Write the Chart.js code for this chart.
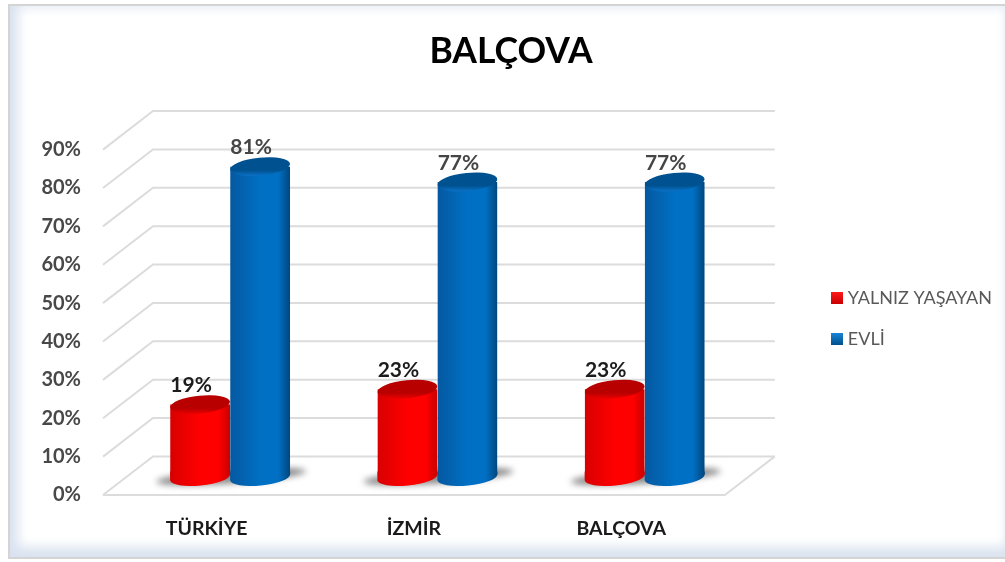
<!DOCTYPE html>
<html lang="tr">
<head>
<meta charset="utf-8">
<title>BALÇOVA</title>
<script src="https://cdn.jsdelivr.net/npm/chart.js@4"></script>
<style>
  html, body { margin: 0; background: #fff; overflow: hidden; }
  #frame {
    position: absolute; left: 8px; top: 4px; width: 999px; height: 555px;
    border: 2px solid #d4d4d4; border-right: 0; box-sizing: border-box;
    box-shadow: inset 14px 0 12px -6px #d9e2f0, inset 0 -16px 12px -6px #d9e3ef,
                inset 0 10px 10px -6px #eef2f8, inset -8px 0 8px -5px #e8edf5;
  }
  #wrap { position: absolute; left: 0; top: 0; width: 1005px; height: 562px; }
</style>
</head>
<body>
<div id="frame"></div>
<div id="wrap"><canvas id="chart" width="1005" height="562"></canvas></div>
<script>
const titleText = "BALÇOVA";
const categories = ["TÜRKİYE", "İZMİR", "BALÇOVA"];
const seriesNames = ["YALNIZ YAŞAYAN", "EVLİ"];
const yalnizValues = [19, 23, 23];
const evliValues = [81, 77, 77];
const yTickMax = 90;
const yTickStep = 10;

const FONT = "Lato, Carlito, sans-serif";
const WALL_DX = 50, WALL_DY = 38.6;   // back wall offset
const BAR_DX = 23.5, BAR_DY = 17.5;   // bars stand in the middle of the floor
const BAR_W = 60, CAP_RY = 9, FOOT_RY = 8, TILT = -0.1;
const SLANT = 3;                      // how far the tilted ellipse ends sit off its centre

const looks = [
  { edgeL: "#d80000", mid: "#ff0000", edgeR: "#c80000", capA: "#b80000", capB: "#e60000", label: "#1c1c1c", swatchA: "#ff1a1a", swatchB: "#c80000" },
  { edgeL: "#0558a0", mid: "#0070c4", edgeR: "#00467c", capA: "#00518f", capB: "#0a70c4", label: "#454545", swatchA: "#1a84d8", swatchB: "#00508c" }
];

function bodyGradient(ctx, x, look) {
  const g = ctx.createLinearGradient(x - BAR_W / 2, 0, x + BAR_W / 2, 0);
  g.addColorStop(0, look.edgeL);
  g.addColorStop(0.5, look.mid);
  g.addColorStop(0.8, look.mid);
  g.addColorStop(1, look.edgeR);
  return g;
}

const room3d = {
  id: "room3d",
  afterLayout(chart) {
    chart.legend.top -= 4;
    chart.legend.bottom -= 4;
  },
  beforeDatasetsDraw(chart) {
    const { ctx, chartArea: a, scales: { x, y } } = chart;
    ctx.save();
    ctx.strokeStyle = "#dcdcdc";
    ctx.lineWidth = 2;
    y.ticks.forEach(t => {
      const py = y.getPixelForValue(t.value);
      ctx.beginPath();
      ctx.moveTo(a.left, py);
      ctx.lineTo(a.left + WALL_DX, py - WALL_DY);
      ctx.lineTo(a.right + WALL_DX, py - WALL_DY);
      ctx.stroke();
    });
    // floor
    ctx.beginPath();
    ctx.moveTo(a.left, a.bottom);
    ctx.lineTo(a.right, a.bottom);
    ctx.lineTo(a.right + WALL_DX, a.bottom - WALL_DY);
    ctx.stroke();
    // shadows under the bar pairs
    ctx.filter = "blur(3px)";
    ctx.fillStyle = "#8c8c8c";
    categories.forEach((c, i) => {
      ctx.beginPath();
      ctx.ellipse(x.getPixelForValue(i) + BAR_DX + 1, y.getPixelForValue(0) - BAR_DY - 1, 75, 7, -0.07, 0, Math.PI * 2);
      ctx.fill();
    });
    ctx.restore();
  },
  beforeDatasetDraw(chart, args) {
    const { ctx, scales: { y } } = chart;
    const look = looks[args.index];
    const base = y.getPixelForValue(0);
    const bars = chart.getDatasetMeta(args.index).data;
    ctx.save();
    ctx.translate(BAR_DX, -BAR_DY);
    bars.forEach(b => {
      const l = b.x - BAR_W / 2, r = b.x + BAR_W / 2;
      ctx.fillStyle = bodyGradient(ctx, b.x, look);
      ctx.beginPath();
      ctx.ellipse(b.x, base, BAR_W / 2, FOOT_RY, TILT, 0, Math.PI * 2);
      ctx.fill();
      ctx.beginPath();
      ctx.moveTo(l, base - 6);
      ctx.lineTo(r, base - 6);
      ctx.lineTo(r, base - SLANT);
      ctx.lineTo(l, base + SLANT);
      ctx.closePath();
      ctx.fill();
    });
    // cut the square foot of the library's bar along the slant
    ctx.beginPath();
    bars.forEach(b => {
      const l = b.x - BAR_W / 2, r = b.x + BAR_W / 2;
      ctx.moveTo(l, b.y - 5);
      ctx.lineTo(r, b.y - 5);
      ctx.lineTo(r, base - SLANT);
      ctx.lineTo(l, base + SLANT);
      ctx.closePath();
    });
    ctx.clip();
  },
  afterDatasetDraw(chart, args) {
    const { ctx } = chart;
    const look = looks[args.index];
    const bars = chart.getDatasetMeta(args.index).data;
    ctx.restore();
    ctx.save();
    ctx.translate(BAR_DX, -BAR_DY);
    bars.forEach(b => {
      const g = ctx.createLinearGradient(0, b.y - CAP_RY, 0, b.y + CAP_RY);
      g.addColorStop(0, look.capA);
      g.addColorStop(0.7, look.capA);
      g.addColorStop(1, look.capB);
      ctx.fillStyle = g;
      ctx.beginPath();
      ctx.ellipse(b.x, b.y, BAR_W / 2, CAP_RY, TILT, 0, Math.PI * 2);
      ctx.fill();
    });
    ctx.restore();
  },
  afterDatasetsDraw(chart) {
    const { ctx } = chart;
    ctx.save();
    ctx.font = "bold 21px " + FONT;
    ctx.textAlign = "center";
    ctx.textBaseline = "middle";
    chart.data.datasets.forEach((ds, d) => {
      ctx.fillStyle = looks[d].label;
      chart.getDatasetMeta(d).data.forEach((b, i) => {
        ctx.fillText(ds.data[i] + "%", b.x + BAR_DX - 9, b.y - BAR_DY - 19);
      });
    });
    ctx.restore();
  },
  afterDraw(chart) {
    // legend swatches, the library's own box has no gradient
    const { ctx } = chart;
    chart.legend.legendHitBoxes.forEach((h, i) => {
      const top = Math.round(h.top + h.height / 2 - 6);
      const left = Math.round(h.left - 8);
      const g = ctx.createLinearGradient(0, top, 0, top + 12);
      g.addColorStop(0, looks[i].swatchA);
      g.addColorStop(1, looks[i].swatchB);
      ctx.fillStyle = g;
      ctx.fillRect(left, top, 12, 12);
    });
  }
};

function scriptedBody(d) {
  return c => {
    const x = c.chart.scales.x;
    if (!x || !c.chart.chartArea) return looks[d].mid;
    const cx = x.getPixelForValue(c.dataIndex) + (d === 0 ? -BAR_W / 2 : BAR_W / 2);
    return bodyGradient(c.chart.ctx, cx, looks[d]);
  };
}

new Chart(document.getElementById("chart"), {
  type: "bar",
  data: {
    labels: categories,
    datasets: [
      { label: seriesNames[0], data: yalnizValues, backgroundColor: scriptedBody(0) },
      { label: seriesNames[1], data: evliValues, backgroundColor: scriptedBody(1) }
    ]
  },
  options: {
    responsive: false,
    animation: false,
    layout: { padding: { left: 20, right: 3, top: 0, bottom: 0 } },
    datasets: { bar: { barPercentage: 1, categoryPercentage: 0.579 } },
    plugins: {
      title: {
        display: true,
        text: titleText,
        color: "#000",
        font: { family: FONT, size: 35.5, weight: "bold" },
        padding: { top: 30, bottom: 77 }
      },
      legend: {
        position: "right",
        fullSize: false,
        maxWidth: 220,
        labels: {
          color: "#595959",
          font: { family: FONT, size: 18 },
          boxWidth: 0,
          boxHeight: 12,
          padding: 23,
          generateLabels: chart => chart.data.datasets.map((ds, i) => ({
            text: ds.label,
            fillStyle: "transparent",
            strokeStyle: "transparent",
            fontColor: "#595959",
            lineWidth: 0,
            datasetIndex: i
          }))
        }
      },
      tooltip: { enabled: false }
    },
    scales: {
      x: {
        grid: { display: false },
        border: { display: false },
        ticks: { color: "#1a1a1a", font: { family: FONT, size: 19.5, weight: "bold" }, padding: 14, maxRotation: 0 },
        afterFit: s => { s.height = 67; }
      },
      y: {
        min: 0,
        max: yTickMax,
        grid: { display: false },
        border: { display: false },
        ticks: {
          stepSize: yTickStep,
          color: "#484848",
          font: { family: FONT, size: 20, weight: "bold" },
          padding: 14,
          callback: v => v + "%"
        },
        afterFit: s => { s.width = 83; }
      },
      spacer: {
        position: "right",
        display: true,
        grid: { display: false },
        border: { display: false },
        ticks: { display: false },
        afterFit: s => { s.width = 91; }
      }
    }
  },
  plugins: [room3d]
});
</script>
</body>
</html>
